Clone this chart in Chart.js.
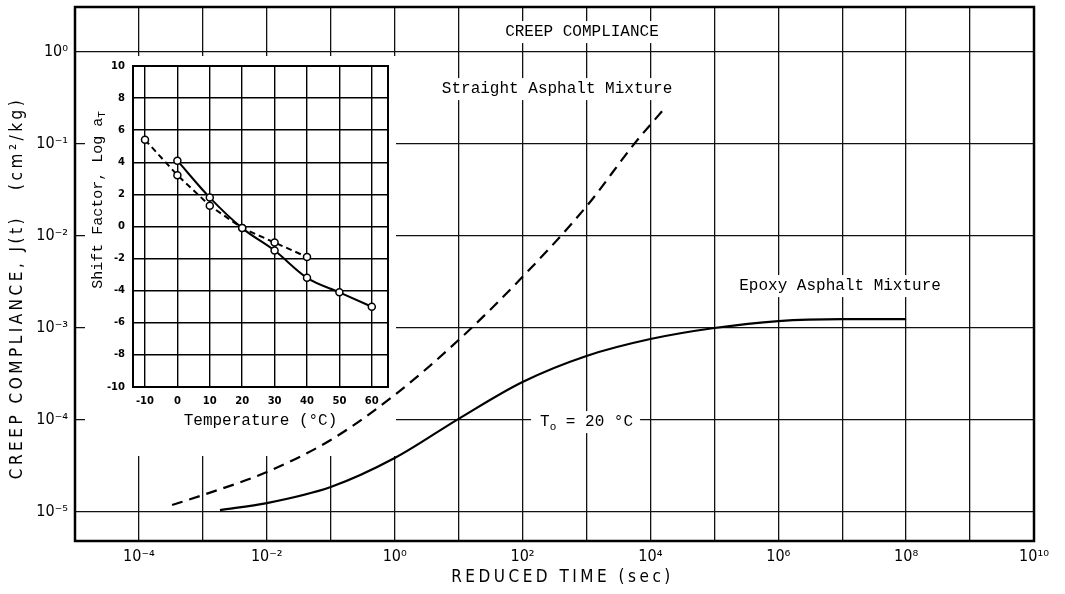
<!DOCTYPE html>
<html>
<head>
<meta charset="utf-8">
<script src="https://cdn.jsdelivr.net/npm/chart.js@4.4.1/dist/chart.umd.min.js"></script>
<style>
  html, body { margin: 0; padding: 0; background: #fff; }
  #wrap { position: relative; width: 1065px; height: 594px; }
  #insetBox { position: absolute; left: 85px; top: 56px; width: 311px; height: 400px; }
</style>
</head>
<body>
<div id="wrap">
  <canvas id="mainChart" width="1065" height="594"></canvas>
  <div id="insetBox"><canvas id="insetChart" width="311" height="400"></canvas></div>
</div>
<script>
// creep compliance J(t) (cm2/kg) against reduced time (sec)
const straightTime = [3.3e-4, 1e-3, 1e-2, 1e-1, 1, 10, 100, 1000, 5750, 15800];
const straightJ = [1.19e-5, 1.53e-5, 2.72e-5, 6.07e-5, 1.87e-4, 7.41e-4, 3.6e-3, 2.1e-2, 1.03e-1, 2.34e-1];
const epoxyTime = [1.85e-3, 1e-2, 1e-1, 1, 10, 100, 1000, 1e4, 1e5, 1e6, 1e7, 1e8];
const epoxyJ = [1.05e-5, 1.25e-5, 1.87e-5, 3.86e-5, 1.03e-4, 2.59e-4, 4.97e-4, 7.59e-4, 1.0e-3, 1.19e-3, 1.25e-3, 1.25e-3];

const xTickValues = [1e-5, 1e-4, 1e-3, 1e-2, 1e-1, 1, 10, 100, 1e3, 1e4, 1e5, 1e6, 1e7, 1e8, 1e9, 1e10];
const xTickLabels = ['', '10⁻⁴', '', '10⁻²', '', '10⁰', '', '10²', '', '10⁴', '', '10⁶', '', '10⁸', '', '10¹⁰'];
const yTickValues = [1e-5, 1e-4, 1e-3, 1e-2, 1e-1, 1];
const yTickLabels = ['10⁻⁵', '10⁻⁴', '10⁻³', '10⁻²', '10⁻¹', '10⁰'];

const xTitle = 'REDUCED TIME (sec)';
const yTitle = 'CREEP COMPLIANCE, J(t)   (cm²/kg)';

// inset: shift factor log aT against temperature (°C)
const straightTemp = [-10, 0, 10, 20, 30, 40];
const straightShift = [5.4, 3.2, 1.3, -0.1, -1.0, -1.9];
const epoxyTemp = [0, 10, 20, 30, 40, 50, 60];
const epoxyShift = [4.1, 1.8, -0.1, -1.5, -3.2, -4.1, -5.0];
const insetXTicks = [-10, 0, 10, 20, 30, 40, 50, 60];
const insetYTicks = [-10, -8, -6, -4, -2, 0, 2, 4, 6, 8, 10];

const sansFont = '"DejaVu Sans Condensed", "Liberation Sans Narrow", sans-serif';
const typeFont = '"Liberation Mono", "Courier New", monospace';

const toPoints = (xs, ys) => xs.map((x, i) => ({ x, y: ys[i] }));

// white area behind the inset, drawn over the grid but under the curves
const insetMask = {
  id: 'insetMask',
  beforeDatasetsDraw(chart) {
    const box = document.getElementById('insetBox');
    const ctx = chart.ctx;
    ctx.save();
    ctx.fillStyle = '#fff';
    ctx.fillRect(box.offsetLeft, box.offsetTop, box.offsetWidth, box.offsetHeight);
    ctx.restore();
  }
};

const frame = {
  id: 'frame',
  afterDraw(chart, args, opts) {
    const { ctx, chartArea } = chart;
    ctx.save();
    ctx.strokeStyle = '#000';
    ctx.lineWidth = opts.width || 2;
    ctx.strokeRect(chartArea.left, chartArea.top, chartArea.right - chartArea.left, chartArea.bottom - chartArea.top);
    ctx.restore();
  }
};

// spaced-out lettering for the main axis titles
const axisTitles = {
  id: 'axisTitles',
  afterDraw(chart) {
    const { ctx, chartArea } = chart;
    ctx.save();
    ctx.fillStyle = '#000';
    ctx.font = '17px ' + sansFont;
    ctx.letterSpacing = '3.5px';
    ctx.textAlign = 'center';
    ctx.textBaseline = 'middle';
    ctx.fillText(xTitle, (chartArea.left + chartArea.right) / 2 + 8, chart.height - 16);
    ctx.translate(18, (chartArea.top + chartArea.bottom) / 2 + 14);
    ctx.rotate(-Math.PI / 2);
    ctx.fillText(yTitle, 0, 0);
    ctx.restore();
  }
};

const notes = {
  id: 'notes',
  afterDraw(chart) {
    const { ctx, scales } = chart;
    const labels = [
      { text: 'CREEP COMPLIANCE', t: 850, j: 1.65 },
      { text: 'Straight Asphalt Mixture', t: 347, j: 0.396 },
      { text: 'Epoxy Asphalt Mixture', t: 9.25e6, j: 2.86e-3 }
    ];
    ctx.save();
    ctx.font = '16px ' + typeFont;
    ctx.textBaseline = 'middle';
    ctx.textAlign = 'center';
    labels.forEach(l => {
      const x = scales.x.getPixelForValue(l.t);
      const y = scales.y.getPixelForValue(l.j);
      const w = ctx.measureText(l.text).width;
      ctx.fillStyle = '#fff';
      ctx.fillRect(x - w / 2 - 5, y - 11, w + 10, 22);
      ctx.fillStyle = '#000';
      ctx.fillText(l.text, x, y);
    });

    // reference temperature label sitting on the 1e-4 line
    const x0 = scales.x.getPixelForValue(188);
    const y0 = scales.y.getPixelForValue(9.5e-5);
    ctx.textAlign = 'left';
    const wT = ctx.measureText('T').width;
    ctx.font = '11px ' + typeFont;
    const wo = ctx.measureText('o').width;
    ctx.font = '16px ' + typeFont;
    const rest = ' = 20 °C';
    const wr = ctx.measureText(rest).width;
    ctx.fillStyle = '#fff';
    ctx.fillRect(x0 - 9, y0 - 11, wT + wo + wr + 16, 22);
    ctx.fillStyle = '#000';
    ctx.fillText('T', x0, y0);
    ctx.fillText(rest, x0 + wT + wo, y0);
    ctx.font = '11px ' + typeFont;
    ctx.fillText('o', x0 + wT, y0 + 5);
    ctx.restore();
  }
};

new Chart(document.getElementById('mainChart'), {
  type: 'line',
  data: {
    datasets: [
      {
        label: 'Straight Asphalt Mixture',
        data: toPoints(straightTime, straightJ),
        borderColor: '#000',
        borderWidth: 2.2,
        borderDash: [11, 7],
        pointRadius: 0,
        cubicInterpolationMode: 'monotone'
      },
      {
        label: 'Epoxy Asphalt Mixture',
        data: toPoints(epoxyTime, epoxyJ),
        borderColor: '#000',
        borderWidth: 2.2,
        pointRadius: 0,
        cubicInterpolationMode: 'monotone'
      }
    ]
  },
  options: {
    responsive: false,
    animation: false,
    layout: { padding: { top: 7, right: 31, left: 0, bottom: 0 } },
    plugins: { legend: { display: false }, tooltip: { enabled: false }, frame: { width: 2.5 } },
    scales: {
      x: {
        type: 'logarithmic',
        min: 1e-5,
        max: 1e10,
        afterBuildTicks: s => { s.ticks = xTickValues.map(v => ({ value: v })); },
        afterFit: s => { s.height = 53; s.paddingLeft = 0; s.paddingRight = 0; },
        grid: { color: '#111', lineWidth: 1.3, drawTicks: false },
        border: { display: false },
        ticks: {
          color: '#000', padding: 6, maxRotation: 0, autoSkip: false,
          font: { family: sansFont, size: 16 },
          callback: (v, i) => xTickLabels[i]
        }
      },
      y: {
        type: 'logarithmic',
        min: 4.84e-6,
        max: 3.09,
        afterBuildTicks: s => { s.ticks = yTickValues.map(v => ({ value: v })); },
        afterFit: s => { s.width = 75; s.paddingTop = 0; s.paddingBottom = 0; },
        grid: { color: '#111', lineWidth: 1.3, drawTicks: false },
        border: { display: false },
        ticks: {
          color: '#000', padding: 7, autoSkip: false,
          font: { family: sansFont, size: 16 },
          callback: (v, i) => yTickLabels[i]
        }
      }
    }
  },
  plugins: [insetMask, frame, axisTitles, notes]
});

const insetTitles = {
  id: 'insetTitles',
  afterDraw(chart) {
    const { ctx, chartArea } = chart;
    ctx.save();
    ctx.fillStyle = '#000';
    ctx.font = '16px ' + typeFont;
    ctx.textAlign = 'center';
    ctx.textBaseline = 'middle';
    ctx.fillText('Temperature (°C)', (chartArea.left + chartArea.right) / 2, chartArea.bottom + 34);

    ctx.translate(chartArea.left - 35, chartArea.top + 134);
    ctx.rotate(-Math.PI / 2);
    ctx.textAlign = 'left';
    const main = 'Shift Factor, Log a';
    ctx.font = '15px ' + typeFont;
    const w1 = ctx.measureText(main).width;
    ctx.font = '11px ' + typeFont;
    const w2 = ctx.measureText('T').width;
    const start = -(w1 + w2) / 2;
    ctx.font = '15px ' + typeFont;
    ctx.fillText(main, start, 0);
    ctx.font = '11px ' + typeFont;
    ctx.fillText('T', start + w1, 4);
    ctx.restore();
  }
};

const insetTickFont = { family: '"DejaVu Sans", sans-serif', size: 10, weight: 'bold' };

new Chart(document.getElementById('insetChart'), {
  type: 'line',
  data: {
    datasets: [
      {
        data: toPoints(straightTemp, straightShift),
        borderColor: '#000',
        borderWidth: 2,
        borderDash: [6, 4],
        pointRadius: 3.5,
        pointBackgroundColor: '#fff',
        pointBorderColor: '#000',
        pointBorderWidth: 1.5,
        tension: 0
      },
      {
        data: toPoints(epoxyTemp, epoxyShift),
        borderColor: '#000',
        borderWidth: 2,
        pointRadius: 3.5,
        pointBackgroundColor: '#fff',
        pointBorderColor: '#000',
        pointBorderWidth: 1.5,
        cubicInterpolationMode: 'monotone'
      }
    ]
  },
  options: {
    responsive: false,
    animation: false,
    layout: { padding: { left: 0, top: 10, right: 8, bottom: 0 } },
    plugins: { legend: { display: false }, tooltip: { enabled: false }, frame: { width: 2 } },
    scales: {
      x: {
        type: 'linear',
        min: -13.7,
        max: 65,
        afterBuildTicks: s => { s.ticks = insetXTicks.map(v => ({ value: v })); },
        afterFit: s => { s.height = 69; s.paddingLeft = 0; s.paddingRight = 0; },
        grid: { color: '#000', lineWidth: 1.4, drawTicks: false },
        border: { display: false },
        ticks: { color: '#000', padding: 8, maxRotation: 0, autoSkip: false, font: insetTickFont }
      },
      y: {
        type: 'linear',
        min: -10,
        max: 10,
        afterBuildTicks: s => { s.ticks = insetYTicks.map(v => ({ value: v })); },
        afterFit: s => { s.width = 48; s.paddingTop = 0; s.paddingBottom = 0; },
        grid: { color: '#000', lineWidth: 1.4, drawTicks: false },
        border: { display: false },
        ticks: { color: '#000', padding: 8, autoSkip: false, font: insetTickFont }
      }
    }
  },
  plugins: [frame, insetTitles]
});
</script>
</body>
</html>
